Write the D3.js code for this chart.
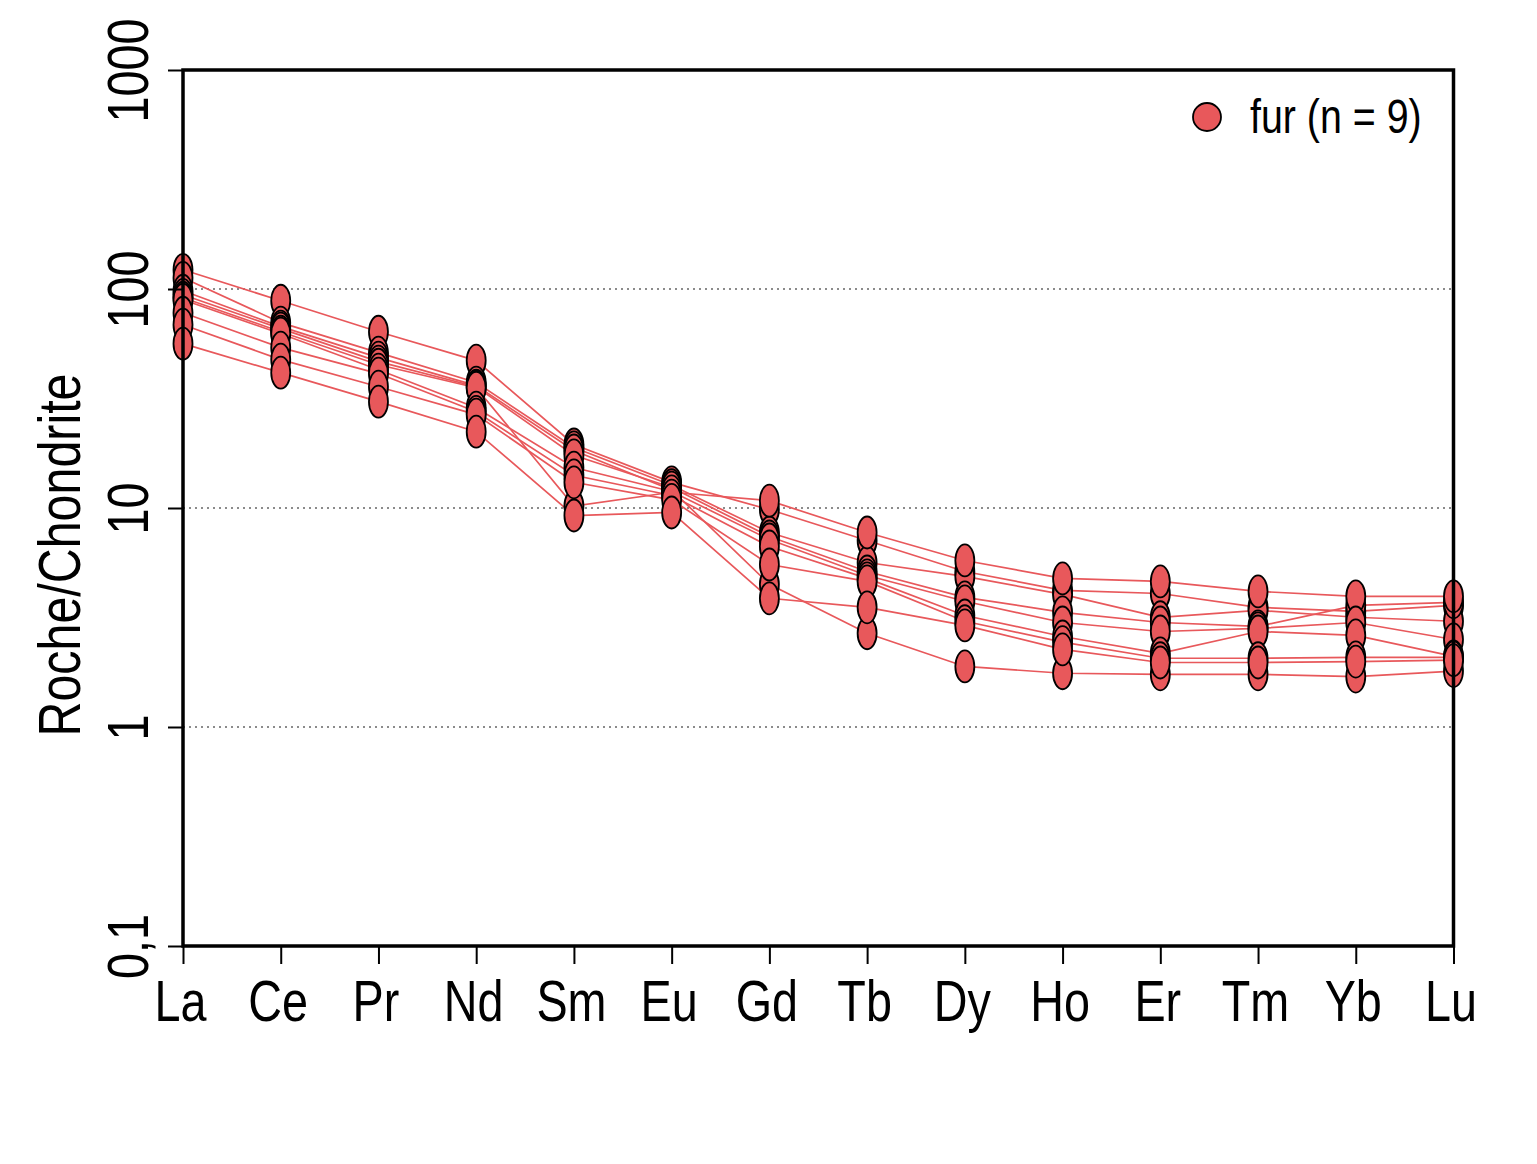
<!DOCTYPE html>
<html lang="fr">
<head>
<meta charset="utf-8" />
<title>Roche/Chondrite</title>
<style>
body { margin:0; background:#fff; }
text { font-family:"Liberation Sans",Arial,sans-serif; fill:#000; }
</style>
</head>
<body>
<div id="chart"></div>
<script src="https://d3js.org/d3.v7.min.js"></script>
<script type="text/javascript">
// element order on the x axis
var elements = ["La","Ce","Pr","Nd","Sm","Eu","Gd","Tb","Dy","Ho","Er","Tm","Yb","Lu"];

// chondrite normalised values, one array per sample
var s1 = [122.4, 88.4, 63.8, 47.1, 19.5, 13.1, 9.84, 7.11, 5.13, 4.21, 4.07, 3.52, 3.37, 3.59];
var s2 = [112.5, 70.2, 51.2, 37.4, 18.9, 12.7, 7.73, 5.64, 4.87, 4.03, 3.17, 3.41, 3.17, 3.04];
var s3 = [98.2, 67.3, 48.6, 36.2, 18.3, 12.1, 4.48, 2.68, 1.89, 1.76, 1.74, 1.74, 1.70, 1.80];
var s4 = [94.1, 65.9, 46.6, 35.8, 17.4, 12.4, 7.41, 5.13, 3.91, 3.34, 3.00, 2.88, 3.59, 3.71];
var s5 = [91.2, 63.8, 45.1, 35.4, 10.2, 11.8, 10.8, 7.73, 5.76, 4.77, 4.62, 4.16, 3.95, 3.95];
var s6 = [89.3, 62.5, 42.8, 28.7, 15.3, 11.9, 7.18, 4.92, 3.75, 3.00, 2.73, 2.82, 3.00, 2.51];
var s7 = [77.9, 54.0, 41.1, 27.5, 14.1, 11.4, 6.67, 4.77, 3.23, 2.59, 2.17, 2.73, 2.62, 2.10];
var s8 = [68.7, 47.6, 35.8, 26.7, 13.1, 10.9, 5.52, 4.62, 3.04, 2.44, 2.06, 2.06, 2.08, 2.08];
var s9 = [56.3, 41.5, 30.6, 22.3, 9.24, 9.54, 3.87, 3.52, 2.91, 2.26, 1.97, 1.97, 1.99, 2.02];
var samples = [s1, s2, s3, s4, s5, s6, s7, s8, s9];

var yTicks = [0.1, 1, 10, 100, 1000];
var yTickLabels = ["0,1", "1", "10", "100", "1000"];
var gridValues = [1, 10, 100];
var legendLabel = "fur (n = 9)";
var yTitle = "Roche/Chondrite";

var col = "#E8585B";
var narrow = " scale(0.82,1)";   // condensed look of the original font

var W = 1537, H = 1164;
var mLeft = 183, mRight = 1453.5, mTop = 70, mBottom = 946;

var svg = d3.select("#chart").append("svg")
    .attr("width", W)
    .attr("height", H);
svg.append("rect").attr("width", W).attr("height", H).attr("fill", "white");

var x = d3.scalePoint().domain(elements).range([mLeft, mRight]).padding(0);
var y = d3.scaleLog().domain([0.1, 1000]).range([mBottom, mTop]);

// dotted grid
svg.selectAll("line.grid").data(gridValues).enter().append("line")
   .attr("class", "grid")
   .attr("x1", mLeft).attr("x2", mRight)
   .attr("y1", d => y(d)).attr("y2", d => y(d))
   .attr("stroke", "#666")
   .attr("stroke-width", 1.5)
   .attr("stroke-dasharray", "2,4");

// sample lines
var line = d3.line().x((d, i) => x(elements[i])).y(d => y(d));
svg.selectAll("path.sample").data(samples).enter().append("path")
   .attr("class", "sample")
   .attr("d", line)
   .attr("fill", "none")
   .attr("stroke", col)
   .attr("stroke-width", 1.7);

// markers
samples.forEach(function (s) {
  svg.selectAll(null).data(s).enter().append("ellipse")
     .attr("cx", (d, i) => x(elements[i]))
     .attr("cy", d => y(d))
     .attr("rx", 9.5)
     .attr("ry", 16)
     .attr("fill", col)
     .attr("stroke", "#000")
     .attr("stroke-width", 1.8);
});

// frame
svg.append("rect")
   .attr("x", mLeft).attr("y", mTop)
   .attr("width", mRight - mLeft).attr("height", mBottom - mTop)
   .attr("fill", "none")
   .attr("stroke", "#000")
   .attr("stroke-width", 3.5);

// y axis
var yAxis = d3.axisLeft(y).tickValues(yTicks).tickSize(15).tickFormat("");
var gy = svg.append("g").attr("transform", "translate(" + mLeft + ",0)").call(yAxis);
gy.select(".domain").remove();
gy.selectAll(".tick line").attr("stroke-width", 2);
gy.selectAll(".tick").append("text")
   .attr("transform", "translate(-35,0) rotate(-90)" + narrow)
   .attr("text-anchor", "middle")
   .attr("font-size", 57)
   .text((d, i) => yTickLabels[i]);
// keep the top label inside the page, as in the original
gy.selectAll(".tick").each(function (d) {
  var t = d3.select(this).select("text");
  var half = t.node().getComputedTextLength() * 0.82 / 2;
  var shift = Math.max(0, 30 + half - y(d));
  t.attr("transform", "translate(-35," + shift + ") rotate(-90)" + narrow);
});

// x axis
var xAxis = d3.axisBottom(x).tickSize(18).tickFormat("");
var gx = svg.append("g").attr("transform", "translate(0," + mBottom + ")").call(xAxis);
gx.select(".domain").remove();
gx.selectAll(".tick line").attr("stroke-width", 2);
gx.selectAll(".tick").append("text")
   .attr("transform", "translate(-3,75)" + narrow)
   .attr("text-anchor", "middle")
   .attr("font-size", 57)
   .text(d => d);

// y title
svg.append("text")
   .attr("transform", "translate(80,555) rotate(-90)" + narrow)
   .attr("text-anchor", "middle")
   .attr("font-size", 59)
   .text(yTitle);

// legend
svg.append("circle")
   .attr("cx", 1207).attr("cy", 117).attr("r", 14)
   .attr("fill", col).attr("stroke", "#000").attr("stroke-width", 1.8);
svg.append("text")
   .attr("transform", "translate(1250,133)" + narrow)
   .attr("font-size", 48)
   .text(legendLabel);
</script>
</body>
</html>
